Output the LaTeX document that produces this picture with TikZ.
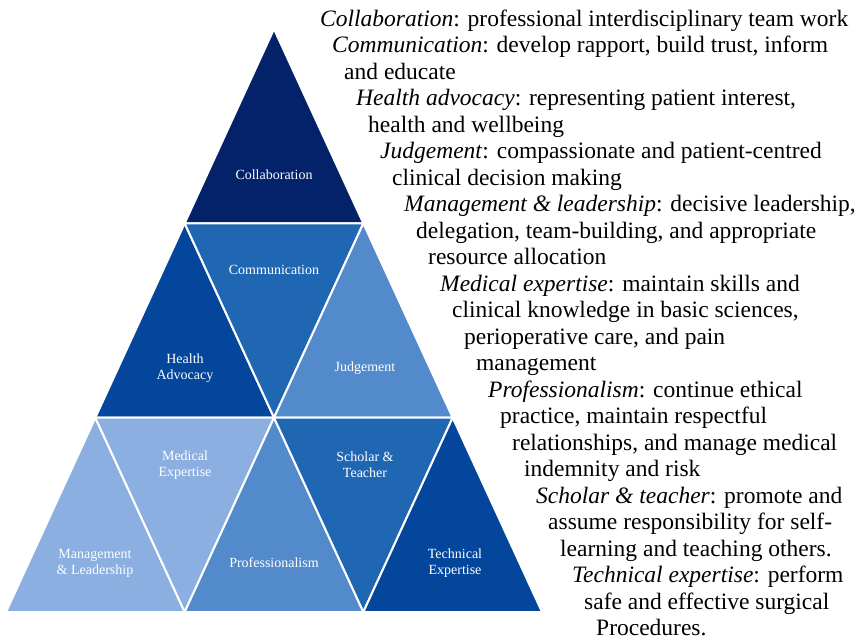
\documentclass[tikz,border=0pt]{standalone}
\usepackage{fontspec}
\setmainfont{Liberation Serif}
\definecolor{bleuNuit}{RGB}{3,34,106}
\definecolor{bleuFonce}{RGB}{3,70,156}
\definecolor{bleuMoyen}{RGB}{32,103,179}
\definecolor{bleuClair}{RGB}{83,138,203}
\definecolor{bleuPale}{RGB}{138,175,224}
\begin{document}
\begin{tikzpicture}[
    x=1pt, y=-1pt,  % une unité = un pixel, vers le bas
    piece/.style={draw=white, line width=2pt, line join=round},
    etiquette/.style={text=white, align=center, inner sep=0pt,
        font=\fontsize{14}{16}\selectfont},
    ligne/.style={anchor=base west, inner sep=0pt,
        font=\fontsize{23.5}{26}\selectfont}
]
\useasboundingbox (0,0) rectangle (859,641);
% Sommets de la grille
\foreach \r in {0,...,3}
    \foreach \k in {0,...,\r}
        \coordinate (p\r\k) at ({274-89.33*\r+178.67*\k},{29+194.33*\r});
% Pièces de la pyramide
\path[piece, fill=bleuNuit] (p00) -- (p10) -- (p11) -- cycle;
\path[piece, fill=bleuFonce] (p10) -- (p20) -- (p21) -- cycle;
\path[piece, fill=bleuMoyen] (p10) -- (p11) -- (p21) -- cycle;
\path[piece, fill=bleuClair] (p11) -- (p21) -- (p22) -- cycle;
\path[piece, fill=bleuPale] (p20) -- (p30) -- (p31) -- cycle;
\path[piece, fill=bleuPale] (p20) -- (p21) -- (p31) -- cycle;
\path[piece, fill=bleuClair] (p21) -- (p31) -- (p32) -- cycle;
\path[piece, fill=bleuMoyen] (p21) -- (p22) -- (p32) -- cycle;
\path[piece, fill=bleuFonce] (p22) -- (p32) -- (p33) -- cycle;
% Étiquettes
\node[etiquette] (collab) at (274,175) {Collaboration};
\node[etiquette] (comm) at (274,270) {Communication};
\node[etiquette] (health) at (185,368) {Health\\Advocacy};
\node[etiquette] (judge) at (365,368) {Judgement};
\node[etiquette] (medic) at (185,465) {Medical\\Expertise};
\node[etiquette] (scholar) at (365,465) {Scholar \&\\Teacher};
\node[etiquette] (manage) at (95,563) {Management\\\& Leadership};
\node[etiquette] (prof) at (274,563) {Professionalism};
\node[etiquette] (tech) at (455,563) {Technical\\Expertise};
% Texte en escalier
\foreach \txt [count=\i from 0] in {
    {\textit{Collaboration}: professional interdisciplinary team work},
    {\textit{Communication}: develop rapport, build trust, inform},
    {and educate},
    {\textit{Health advocacy}: representing patient interest,},
    {health and wellbeing},
    {\textit{Judgement}: compassionate and patient-centred},
    {clinical decision making},
    {\textit{Management \& leadership}: decisive leadership,},
    {delegation, team-building, and appropriate},
    {resource allocation},
    {\textit{Medical expertise}: maintain skills and},
    {clinical knowledge in basic sciences,},
    {perioperative care, and pain},
    {management},
    {\textit{Professionalism}: continue ethical},
    {practice, maintain respectful},
    {relationships, and manage medical},
    {indemnity and risk},
    {\textit{Scholar \& teacher}: promote and},
    {assume responsibility for self-},
    {learning and teaching others.},
    {\textit{Technical expertise}: perform},
    {safe and effective surgical},
    {Procedures.}}
    \node[ligne] (l\i) at ({320+12*\i},{26+26.5*\i}) {\txt};
\end{tikzpicture}
\end{document}
